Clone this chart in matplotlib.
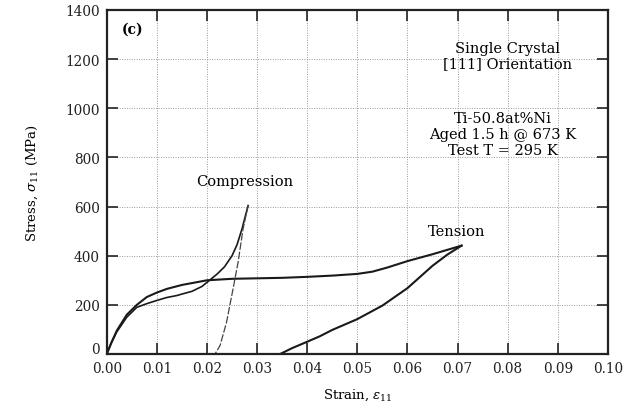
import matplotlib.pyplot as plt
from matplotlib.transforms import ScaledTranslation

# compression: loading and unloading branches
comp_load_strain = [0.0, 0.0008, 0.002, 0.004, 0.006, 0.008, 0.010, 0.012, 0.014,
                    0.015, 0.017, 0.019, 0.0205, 0.022, 0.0235, 0.025, 0.026, 0.027, 0.0282]
comp_load_stress = [0, 40, 90, 150, 190, 205, 218, 230, 238,
                    244, 255, 275, 300, 325, 355, 400, 445, 510, 604]
comp_unload_strain = [0.0282, 0.0272, 0.0262, 0.0252, 0.0239, 0.0226, 0.0216]
comp_unload_stress = [604, 509, 373, 265, 129, 34, 0]

# tension: loading and unloading branches
ten_load_strain = [0.0, 0.001, 0.002, 0.004, 0.006, 0.008, 0.010, 0.012, 0.015, 0.020,
                   0.025, 0.030, 0.035, 0.040, 0.045, 0.050, 0.053, 0.056, 0.060, 0.065, 0.0708]
ten_load_stress = [0, 50, 95, 160, 200, 232, 250, 265, 281, 300,
                   306, 308, 310, 314, 319, 326, 335, 352, 378, 406, 441]
ten_unload_strain = [0.0708, 0.068, 0.065, 0.060, 0.055, 0.050, 0.045, 0.0425, 0.040, 0.037, 0.0346]
ten_unload_stress = [441, 405, 359, 268, 197, 142, 98, 72, 50, 24, 0]

x_ticks = [0.00, 0.01, 0.02, 0.03, 0.04, 0.05, 0.06, 0.07, 0.08, 0.09, 0.10]
y_ticks = [0, 200, 400, 600, 800, 1000, 1200, 1400]

plt.rcParams['font.family'] = ['DejaVu Serif']
plt.rcParams['mathtext.fontset'] = 'dejavuserif'

fig = plt.figure(figsize=(6.28, 4.14), dpi=100)
ax = fig.add_axes([0.170, 0.1425, 0.798, 0.831])

ax.plot(ten_load_strain, ten_load_stress, color='#1a1a1a', lw=1.5)
ax.plot(ten_unload_strain, ten_unload_stress, color='#1a1a1a', lw=1.5)
ax.plot(comp_load_strain, comp_load_stress, color='#1a1a1a', lw=1.2)
ax.plot(comp_unload_strain, comp_unload_stress, color='#444444', lw=0.9,
        linestyle=(0, (6, 1.5)))

ax.set_xlim(0, 0.10)
ax.set_ylim(0, 1400)
ax.set_xticks(x_ticks)
ax.set_xticklabels([f'{v:.2f}' for v in x_ticks])
ax.set_yticks(y_ticks)
ax.tick_params(direction='in', length=8, width=1.2, top=True, right=True,
               labelsize=9.8, pad=5, colors='#222222')
for s in ax.spines.values():
    s.set_linewidth(1.6)
    s.set_color('#222222')
ax.grid(True, color='#999999', lw=0.7, linestyle=(0, (1, 1.5)))

# the "0" on the y axis sits a little above the axis line, clear of "0.00"
lbl0 = ax.get_yticklabels()[0]
lbl0.set_transform(lbl0.get_transform() + ScaledTranslation(0, 5 / 72, fig.dpi_scale_trans))

ax.set_xlabel('Strain, $\\epsilon_{11}$', fontsize=9.5, labelpad=8)
ax.set_ylabel('Stress, $\\sigma_{11}$ (MPa)', fontsize=9.5, labelpad=18)

ax.text(0.0052, 1323, '(c)', fontsize=10, fontweight='bold', ha='center', va='center')
ax.text(0.0275, 705, 'Compression', fontsize=10.5, ha='center', va='center')
ax.text(0.0698, 502, 'Tension', fontsize=10.5, ha='center', va='center')
ax.text(0.080, 1214, 'Single Crystal\n[111] Orientation', fontsize=10.5,
        ha='center', va='center', linespacing=1.1)
ax.text(0.079, 895, 'Ti-50.8at%Ni\nAged 1.5 h @ 673 K\nTest T = 295 K', fontsize=10.5,
        ha='center', va='center', linespacing=1.15)

fig.savefig('out.png', dpi=100)
